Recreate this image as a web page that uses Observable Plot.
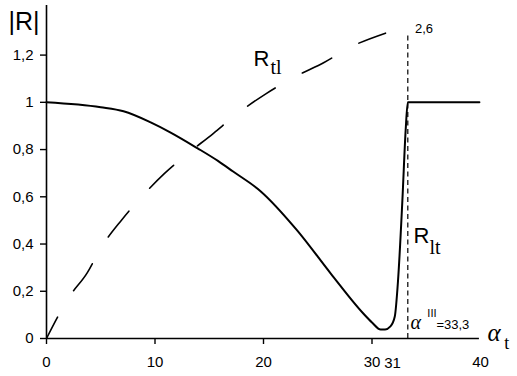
<!DOCTYPE html>
<html>
<head>
<meta charset="utf-8">
<script src="https://cdn.jsdelivr.net/npm/d3@7"></script>
<script src="https://cdn.jsdelivr.net/npm/@observablehq/plot@0.6"></script>
<style>
  html, body { margin: 0; padding: 0; background: #fff; }
  #chart svg { display: block; }
</style>
</head>
<body>
<div id="chart"></div>
<script>
// |R_lt| (solid curve)
const alphaLt = [0, 5, 7.1, 9.6, 11.4, 13.9, 15.8, 17.2, 19.7, 23.1, 26.2, 29.2, 30, 30.8, 31.2, 31.7, 32.1, 32.4, 32.8, 33.1, 33.3, 39.9];
const rLt     = [1, 0.979, 0.962, 0.915, 0.873, 0.806, 0.752, 0.707, 0.625, 0.458, 0.275, 0.106, 0.068, 0.038, 0.038, 0.051, 0.093, 0.246, 0.585, 0.88, 1, 1];

// |R_tl| (dashed curve)
const alphaTl = [0, 1.04, 2.06, 3.75, 4.98, 6.91, 8.91, 10.88, 12.72, 15.39, 17.42, 20.18, 22.86, 25.62, 28.2, 31.24];
const rTl     = [0, 0.092, 0.174, 0.278, 0.381, 0.501, 0.607, 0.699, 0.772, 0.869, 0.946, 1.035, 1.107, 1.170, 1.238, 1.293];

// critical angle
const alphaCrit = [33.3];
const rCritTop = [1.292];

const yTicks = [0, 0.2, 0.4, 0.6, 0.8, 1, 1.2];
const xTicks = [0, 10, 20, 30];
const xTicksNoMark = [40];

const lt = alphaLt.map((a, i) => ({a, r: rLt[i]}));
const tl = alphaTl.map((a, i) => ({a, r: rTl[i]}));
const crit = alphaCrit.map((a, i) => ({a, top: rCritTop[i]}));

const fmt = d => String(d).replace(".", ",");
const sans = "Liberation Sans, Arial, sans-serif";
const serif = "Liberation Serif, Times New Roman, serif";

const chart = Plot.plot({
  width: 517,
  height: 376,
  marginLeft: 46,
  marginRight: 37,
  marginTop: 5,
  marginBottom: 38,
  style: {fontFamily: sans, fontSize: "15px", background: "#fff", color: "#000", overflow: "visible"},
  x: {domain: [0, 40]},
  y: {domain: [0, 1.41]},
  marks: [
    Plot.ruleX([0], {y1: 0, y2: 1.41, stroke: "#000", strokeWidth: 1.6}),
    Plot.ruleY([0], {x1: 0, x2: 39.9, stroke: "#000", strokeWidth: 1.6}),
    Plot.axisY({ticks: yTicks, tickFormat: fmt, tickSize: 6, tickPadding: 7, strokeWidth: 1.4, fontSize: 15, label: null}),
    Plot.axisX({ticks: xTicks, tickFormat: fmt, tickSize: 6, tickPadding: 12, strokeWidth: 1.4, fontSize: 15, label: null}),
    Plot.axisX({ticks: xTicksNoMark, tickFormat: fmt, tickSize: 0, tickPadding: 18, fontSize: 15, label: null}),
    Plot.text(["31"], {x: 31.9, y: -0.104, fontSize: 15, textAnchor: "middle"}),
    Plot.ruleX(crit, {x: "a", y1: 0, y2: "top", stroke: "#000", strokeWidth: 1.2, strokeDasharray: "5,3.5"}),
    Plot.line(tl, {x: "a", y: "r", stroke: "#000", strokeWidth: 1.6, strokeDasharray: "33,31", strokeDashoffset: 9, curve: "monotone-x"}),
    Plot.line(lt, {x: "a", y: "r", stroke: "#000", strokeWidth: 2, curve: "monotone-x"}),
    // labels
    Plot.text(["|R|"], {x: -3.5, y: 1.34, textAnchor: "start", fontSize: 25, fontFamily: sans}),
    Plot.text(["R"], {x: 19.08, y: 1.185, textAnchor: "start", fontSize: 22, fontFamily: sans}),
    Plot.text(["tl"], {x: 20.65, y: 1.149, textAnchor: "start", fontSize: 20, fontFamily: serif, letterSpacing: "3px"}),
    Plot.text(["R"], {x: 33.83, y: 0.436, textAnchor: "start", fontSize: 22, fontFamily: sans}),
    Plot.text(["lt"], {x: 35.3, y: 0.387, textAnchor: "start", fontSize: 20, fontFamily: serif, letterSpacing: "3px"}),
    Plot.text(["2,6"], {x: 34.79, y: 1.313, textAnchor: "middle", fontSize: 13}),
    Plot.text(["α"], {x: 33.55, y: 0.066, textAnchor: "start", fontSize: 20, fontFamily: serif, fontStyle: "italic"}),
    Plot.text(["III"], {x: 35.1, y: 0.104, textAnchor: "start", fontSize: 11}),
    Plot.text(["=33,3"], {x: 35.94, y: 0.057, textAnchor: "start", fontSize: 13, letterSpacing: "2px"}),
    Plot.text(["α"], {x: 40.65, y: 0.025, textAnchor: "start", fontSize: 25, fontFamily: serif, fontStyle: "italic"}),
    Plot.text(["t"], {x: 42.2, y: -0.022, textAnchor: "start", fontSize: 18, fontFamily: serif})
  ]
});
document.getElementById("chart").appendChild(chart);
</script>
</body>
</html>
